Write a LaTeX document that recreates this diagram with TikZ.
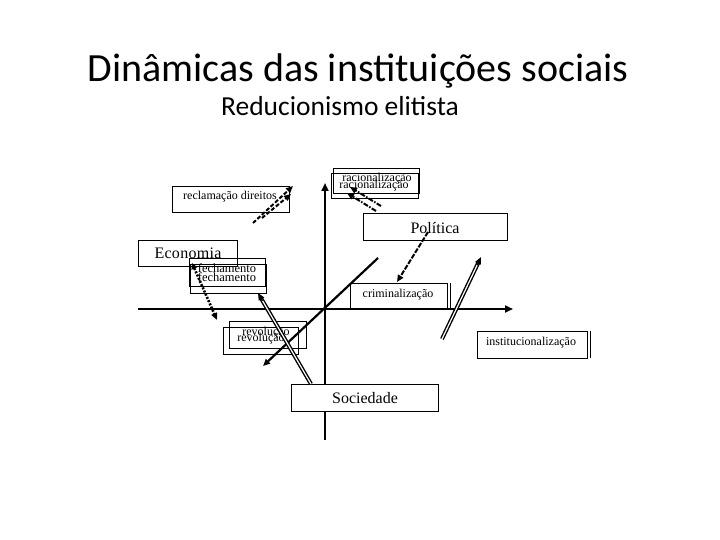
\documentclass[tikz,border=0pt]{standalone}
\usepackage{fontspec}
\setmainfont{Liberation Serif}
\newfontfamily\titlefont{Carlito}
\usetikzlibrary{arrows.meta,calc}
\begin{document}
\begin{tikzpicture}[x=1pt,y=-1pt,
  bx/.style={draw, line width=0.8pt, inner sep=0pt, anchor=north west},
  wbx/.style={bx, fill=white},
  lbl/.style={inner sep=0pt, font=\fontsize{12}{12}\selectfont},
  big/.style={inner sep=0pt, font=\fontsize{16}{16}\selectfont},
  axis/.style={line width=2.5pt, -{Triangle[length=8pt,width=7pt]}},
  tip/.style={-{Triangle[length=7pt,width=6pt]}},
  dbl/.style={double, double distance=1.2pt, line width=1.4pt},
]
\useasboundingbox (0,0) rectangle (720,540);

% titles
\node[anchor=base, inner sep=0pt, font=\titlefont\fontsize{40}{40}\selectfont] (title) at (358,82) {Dinâmicas das instituições sociais};
\node[anchor=base, inner sep=0pt, font=\titlefont\fontsize{27.5}{27.5}\selectfont] (subtitle) at (340,116) {Reducionismo elitista};

% axes
\coordinate (vbot) at (325,440);
\coordinate (vtop) at (325,183);
\coordinate (hleft) at (138,309);
\coordinate (hright) at (513,309);
\draw[axis] (vbot) -- (vtop);
\draw[axis] (hleft) -- (hright);

% boxes
\node[bx, minimum width=117pt, minimum height=26pt] (recl) at (172,186) {};
\node[lbl] (recltxt) at (230,197) {reclamação direitos};

\node[bx, minimum width=86pt, minimum height=25pt] (racA) at (333,168) {};
\node[bx, minimum width=87pt, minimum height=25pt] (racB) at (331,173) {};
\node[lbl] (ractxtA) at (377,179) {racionalização};
\node[lbl] (ractxtB) at (374,186) {racionalização};

\node[bx, minimum width=144pt, minimum height=27pt] (pol) at (363,213) {};
\node[big] (poltxt) at (435,228) {Política};

\node[bx, minimum width=97pt, minimum height=26pt] (crim) at (350,283) {};
\draw[line width=0.8pt] (crim.north east) ++(2.5,0) coordinate (crimA) -- ++(0,26) coordinate (crimB);
\node[lbl] (crimtxt) at (398,295) {criminalização};

\node[bx, minimum width=110pt, minimum height=27pt] (inst) at (477,331) {};
\draw[line width=0.8pt] (inst.north east) ++(3,0) coordinate (instA) -- ++(0,27) coordinate (instB);
\node[lbl] (insttxt) at (531,343) {institucionalização};

\node[bx, minimum width=99pt, minimum height=26pt] (econ) at (138,240) {};
\node[big] (econtxt) at (188,253) {E\kern0.3pt c\kern0.3pt o\kern0.3pt n\kern0.3pt o\kern0.3pt m\kern0.3pt i\kern0.3pt a};

\node[bx, minimum width=76pt, minimum height=28pt] (fechA) at (189,258) {};
\node[bx, minimum width=76pt, minimum height=29pt] (fechB) at (190,264) {};
\node[lbl, font=\fontsize{12.5}{12.5}\selectfont] (fechtxtA) at (227,268) {fechamento};
\node[lbl, font=\fontsize{12.5}{12.5}\selectfont] (fechtxtB) at (227,277) {fechamento};

\node[bx, minimum width=77pt, minimum height=27pt] (revA) at (229,321) {};
\node[bx, minimum width=75pt, minimum height=27pt] (revB) at (223,327) {};
\node[lbl] (revtxtA) at (266,333) {revolução};
\node[lbl] (revtxtB) at (261,339) {revolução};

\node[wbx, minimum width=147pt, minimum height=27pt] (soc) at (291,384) {};
\node[big] (soctxt) at (365,398) {Sociedade};

% connectors
\coordinate (d1s) at (378,258);
\coordinate (d1e) at (263,366);
\draw[line width=2.2pt, tip] (d1s) -- (d1e);

\coordinate (polout) at (428,232);
\coordinate (crimin) at (397,282);
\draw[line width=2pt, dash pattern=on 5pt off 1.5pt, tip] (polout) -- (crimin);

\coordinate (inst1) at (442,339);
\coordinate (inst2) at (481,257);
\draw[dbl, shorten >=5pt] (inst1) -- (inst2);
\draw[line width=1.4pt, tip] ($(inst2)!9pt!(inst1)$) -- (inst2);

\coordinate (socout) at (311,384);
\coordinate (fechin) at (258,293);
\draw[dbl, shorten >=5pt] (socout) -- (fechin);
\draw[line width=1.4pt, tip] ($(fechin)!9pt!(socout)$) -- (fechin);

\coordinate (econa) at (192,263);
\coordinate (econb) at (217,320);
\draw[line width=2.6pt, dash pattern=on 2pt off 1.5pt, {Triangle[length=6pt,width=6pt]}-{Triangle[length=7pt,width=6pt]}] (econa) -- (econb);

\coordinate (rc1s) at (253,223);
\coordinate (rc1e) at (293,186);
\coordinate (rc2s) at (262,218);
\coordinate (rc2e) at (291,194);
\draw[line width=2pt, dash pattern=on 4pt off 2pt, tip] (rc1s) -- (rc1e);
\draw[line width=2pt, dash pattern=on 4pt off 2pt, tip] (rc2s) -- (rc2e);

\coordinate (ra1s) at (381,206);
\coordinate (ra1e) at (350,187);
\coordinate (ra2s) at (376,211);
\coordinate (ra2e) at (347,193);
\draw[line width=2pt, dash pattern=on 5pt off 1.5pt on 1.5pt off 1.5pt, tip] (ra1s) -- (ra1e);
\draw[line width=2pt, dash pattern=on 5pt off 1.5pt on 1.5pt off 1.5pt, tip] (ra2s) -- (ra2e);
\end{tikzpicture}
\end{document}
